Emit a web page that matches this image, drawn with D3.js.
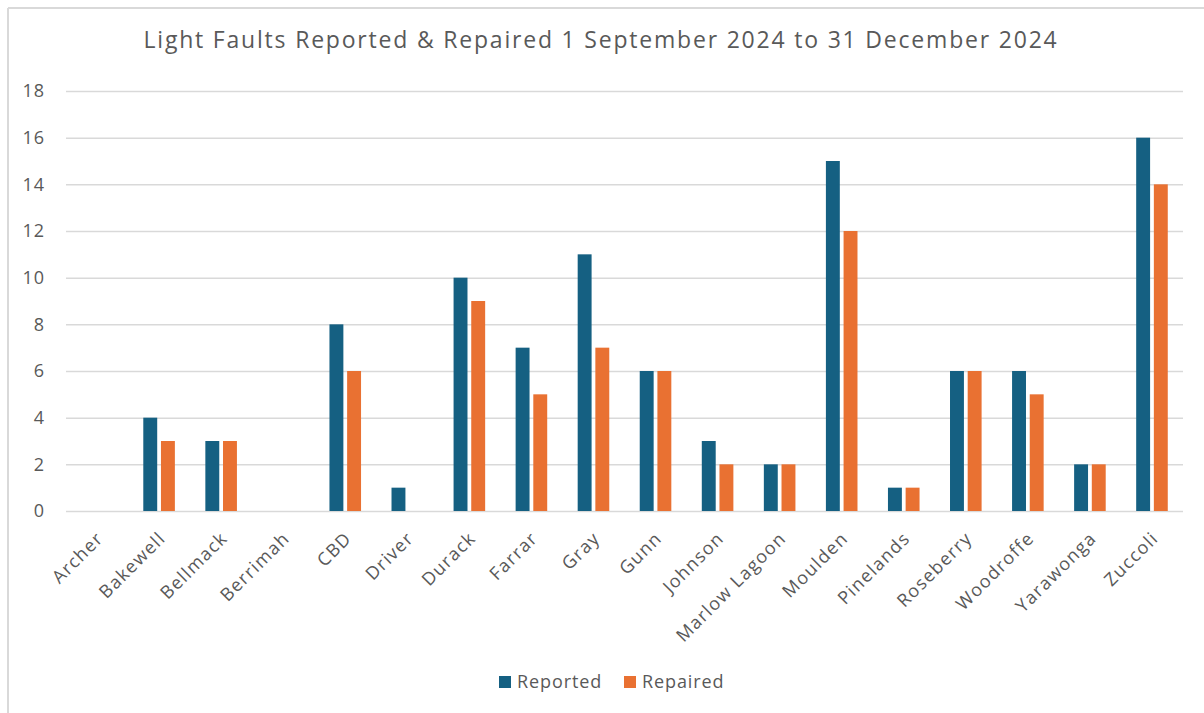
<!DOCTYPE html>
<html>
<head>
<meta charset="utf-8">
<script src="https://cdn.jsdelivr.net/npm/d3@7"></script>
<style>
  html, body { margin: 0; padding: 0; background: #fff; }
  svg { display: block; font-family: "Open Sans", "Noto Sans", sans-serif; }
</style>
</head>
<body>
<svg id="chart" width="1204" height="713"></svg>
<script>
// Suburbs and fault counts, 1 Sep 2024 – 31 Dec 2024
const suburbs = ["Archer", "Bakewell", "Bellmack", "Berrimah", "CBD", "Driver", "Durack", "Farrar",
  "Gray", "Gunn", "Johnson", "Marlow Lagoon", "Moulden", "Pinelands", "Roseberry", "Woodroffe",
  "Yarawonga", "Zuccoli"];
const reported = [0, 4, 3, 0, 8, 1, 10, 7, 11, 6, 3, 2, 15, 1, 6, 6, 2, 16];
const repaired = [0, 3, 3, 0, 6, 0, 9, 5, 7, 6, 2, 2, 12, 1, 6, 5, 2, 14];
const seriesNames = ["Reported", "Repaired"];
const seriesColors = ["#156082", "#E97132"];
const yTicks = [0, 2, 4, 6, 8, 10, 12, 14, 16, 18];
const title = "Light Faults Reported & Repaired 1 September 2024 to 31 December 2024";

const svg = d3.select("#chart");
const textColor = "#595959";
const gridColor = "#d9d9d9";

// Chart frame (top and left edges)
svg.append("line").attr("x1", 8).attr("x2", 1204).attr("y1", 8).attr("y2", 8)
  .attr("stroke", gridColor).attr("stroke-width", 2);
svg.append("line").attr("x1", 8).attr("x2", 8).attr("y1", 8).attr("y2", 713)
  .attr("stroke", gridColor).attr("stroke-width", 2);

const plot = { left: 66, right: 1183, top: 91, bottom: 511 };

const x = d3.scaleBand().domain(suburbs).range([plot.left, plot.right]).paddingInner(0).paddingOuter(0);
const y = d3.scaleLinear().domain([0, 18]).range([plot.bottom, plot.top]);

// Excel-style clustering: gap width 219%, overlap -27%
const bw = x.bandwidth() / (2 + 0.27 + 2.19);
const innerGap = bw * 0.27;

// Gridlines and value labels
const yAxis = d3.axisLeft(y).tickValues(yTicks).tickSize(-(plot.right - plot.left)).tickPadding(21);
const gy = svg.append("g").attr("transform", `translate(${plot.left},0)`).call(yAxis);
gy.select(".domain").remove();
gy.selectAll(".tick line").attr("stroke", gridColor).attr("stroke-width", 1.5);
gy.selectAll(".tick text").attr("fill", textColor).attr("font-size", 18)
  .attr("font-family", "'Open Sans', sans-serif").attr("letter-spacing", 1);

// Bars
const table = suburbs.map((s, i) => ({ suburb: s, values: [reported[i], repaired[i]] }));
const groups = svg.append("g").selectAll("g").data(table).join("g")
  .attr("transform", d => `translate(${x(d.suburb)},0)`);
groups.selectAll("rect")
  .data(d => d.values.map((v, k) => ({ v, k })))
  .join("rect")
  .attr("x", d => x.bandwidth() / 2 + (d.k === 0 ? -(bw + innerGap / 2) : innerGap / 2))
  .attr("width", bw)
  .attr("y", d => y(d.v))
  .attr("height", d => y(0) - y(d.v))
  .attr("fill", d => seriesColors[d.k]);

// Category labels, rotated
svg.append("g").selectAll("text").data(suburbs).join("text")
  .attr("transform", d => `translate(${x(d) + x.bandwidth() / 2 + 3},${plot.bottom + 24}) rotate(-45)`)
  .attr("text-anchor", "end")
  .attr("dy", "0.35em")
  .attr("fill", textColor)
  .attr("font-size", 18)
  .attr("letter-spacing", 1.3)
  .text(d => d);

// Title
svg.append("text").attr("x", 601).attr("y", 48).attr("text-anchor", "middle")
  .attr("fill", textColor).attr("font-size", 23).attr("letter-spacing", 1.8).text(title);

// Legend
const legend = svg.append("g");
const legendItems = [{ name: seriesNames[0], color: seriesColors[0], x: 499 },
                     { name: seriesNames[1], color: seriesColors[1], x: 624 }];
legendItems.forEach(it => {
  legend.append("rect").attr("x", it.x).attr("y", 676).attr("width", 12).attr("height", 12).attr("fill", it.color);
  legend.append("text").attr("x", it.x + 18).attr("y", 688).attr("fill", textColor)
    .attr("font-size", 18).attr("letter-spacing", 0.9).text(it.name);
});
</script>
</body>
</html>
